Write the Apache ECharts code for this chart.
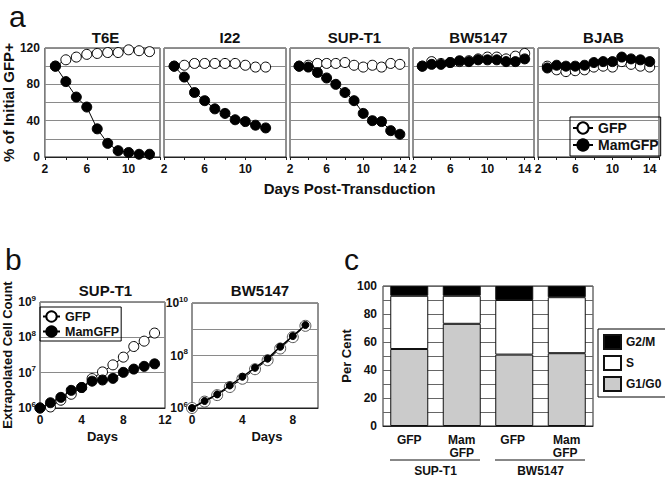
<!DOCTYPE html>
<html>
<head>
<meta charset="utf-8">
<script src="https://cdn.jsdelivr.net/npm/echarts@6/dist/echarts.min.js"></script>
<style>
html,body{margin:0;padding:0;background:#fff;}
#c{width:665px;height:480px;}
</style>
</head>
<body>
<div id="c"></div>
<script>
// ---------- Panel a data ----------
const t6eDays = [3,4,5,6,7,8,9,10,11,12];
const t6eGFP  = [100,107,110,113,114,115,115,118,117,116];
const t6eMam  = [100,83,66,55,31,15,7,5,3,3];
const i22Days = [3,4,5,6,7,8,9,10,11,12];
const i22GFP  = [100,101,103,103,103,103,103,101,99,99];
const i22Mam  = [100,88,71,62,53,48,41,39,35,32];
const supDays = [3,4,5,6,7,8,9,10,11,12,13,14];
const supGFP  = [100,101,103,103,103,104,101,99,101,99,103,102];
const supMam  = [100,99,93,87,80,71,62,48,40,39,29,25];
const bwDays  = [3,4,5,6,7,8,9,10,11,12,13,14];
const bwGFP   = [100,105,103,104,105,106,108,110,110,108,111,114];
const bwMam   = [100,102,102,104,106,105,107,107,107,105,105,108];
const bjabDays= [3,4,5,6,7,8,9,10,11,12,13,14];
const bjabGFP = [100,96,94,95,96,99,100,99,105,102,100,99];
const bjabMam = [98,101,100,100,101,104,105,105,110,108,107,105];
const aTitles = ['T6E','I22','SUP-T1','BW5147','BJAB'];
const aTickLabels = [2,6,10,14];
const aYTickLabels = [0,40,80,120];

// ---------- Panel b data ----------
const b1Days = [0,1,2,3,4,5,6,7,8,9,10,11];
const b1GFP  = [1.0e6,1.07e6,1.66e6,2.45e6,3.8e6,6.8e6,1.05e7,1.66e7,2.75e7,5.5e7,7.8e7,1.32e8];
const b1Mam  = [1.0e6,1.41e6,2.0e6,3.16e6,3.8e6,5.75e6,6.2e6,6.9e6,1.02e7,1.26e7,1.51e7,1.78e7];
const b2Days = [0,1,2,3,4,5,6,7,8,9];
const b2GFP  = [1.0e6,1.75e6,3.1e6,6.3e6,1.3e7,3.0e7,6.6e7,1.85e8,5.0e8,1.35e9];
const b2Mam  = [1.0e6,1.85e6,3.3e6,7.2e6,1.55e7,3.4e7,7.6e7,2.15e8,5.5e8,1.45e9];

// ---------- Panel c data ----------
const cCats   = ['GFP','Mam\nGFP','GFP ','Mam\nGFP '];
const cGroups = ['SUP-T1','BW5147'];
const cG1G0   = [55,73,51,52];
const cS      = [38,20,39,40];
const cG2M    = [7,7,10,8];

const FONT = '"Liberation Sans", Arial, Helvetica, sans-serif';
const chart = echarts.init(document.getElementById('c'), null, {renderer:'svg'});

const aGrids = [
  {left:41, top:48, width:119, height:109},
  {left:164, top:48, width:122, height:109},
  {left:290, top:48, width:119, height:109},
  {left:413, top:48, width:121, height:109},
  {left:538, top:48, width:121, height:109}
];
const aMax = [13,14,15,15,15];
const aData = [
  [t6eDays,t6eGFP,t6eMam],[i22Days,i22GFP,i22Mam],[supDays,supGFP,supMam],
  [bwDays,bwGFP,bwMam],[bjabDays,bjabGFP,bjabMam]
];
const pairs = (d,v)=>d.map((x,i)=>[x,v[i]]);
const gridBase = {show:true, borderColor:'#222', borderWidth:1, backgroundColor:'transparent'};

const grids = [], xAxes = [], yAxes = [], series = [], titles = [];
const lbl = {fontFamily:FONT, fontWeight:'bold', fontSize:12, color:'#111'};
const bigLetter = {fontFamily:FONT, fontSize:30, fontWeight:'normal', color:'#111'};

titles.push({text:'a', left:9, top:1, padding:0, textStyle:bigLetter});
titles.push({text:'b', left:5, top:244, padding:0, textStyle:bigLetter});
titles.push({text:'c', left:344, top:244, padding:0, textStyle:bigLetter});

aGrids.forEach((g,i)=>{
  grids.push(Object.assign({}, gridBase, g));
  titles.push({text:aTitles[i], left:g.left+g.width/2, top:25, textAlign:'center',
    textStyle:{fontFamily:FONT, fontSize:15, fontWeight:'bold', color:'#111'}});
  const hide14 = (i===1);
  xAxes.push({type:'value', gridIndex:i, min:2, max:aMax[i], interval:2,
    axisLine:{show:true, lineStyle:{color:'#222'}},
    axisTick:{show:true, length:3, lineStyle:{color:'#222'}},
    splitLine:{show:false},
    axisLabel:Object.assign({margin:6, showMaxLabel:true, formatter:v=> (aTickLabels.includes(v) && !(hide14 && v===14)) ? String(v) : ''}, lbl),
    name: i===2 ? 'Days Post-Transduction' : '', nameLocation:'middle', nameGap:24,
    nameTextStyle:{fontFamily:FONT, fontWeight:'bold', fontSize:15, color:'#111'}
  });
  yAxes.push({type:'value', gridIndex:i, min:0, max:120, interval:20,
    axisLine:{show:false}, axisTick:{show:false},
    splitLine:{show:true, lineStyle:{color:'#8a8a8a', width:1}},
    axisLabel:Object.assign({show:i===0, margin:5, formatter:v=> aYTickLabels.includes(v) ? String(v) : ''}, lbl),
    name: i===0 ? '% of Initial GFP+' : '', nameLocation:'middle', nameGap:24, nameRotate:90,
    nameTextStyle:{fontFamily:FONT, fontWeight:'bold', fontSize:15, color:'#111'}
  });
  const [d,gfp,mam] = aData[i];
  series.push({type:'line', name:'GFP', xAxisIndex:i, yAxisIndex:i, data:pairs(d,gfp),
    symbol:'circle', symbolSize:10, lineStyle:{color:'#000', width:1},
    itemStyle:{color:'#fff', borderColor:'#000', borderWidth:1}, z:2});
  series.push({type:'line', name:'MamGFP', xAxisIndex:i, yAxisIndex:i, data:pairs(d,mam),
    symbol:'circle', symbolSize:10, lineStyle:{color:'#000', width:1},
    itemStyle:{color:'#000', borderColor:'#000', borderWidth:1}, z:3});
});

// ---------- Panel b ----------
const supFmt = v => { const e = Math.round(Math.log10(v)); return '{b|10}{s|' + e + '}'; };
const rich = {b:{fontFamily:FONT, fontWeight:'bold', fontSize:12, color:'#111'},
              s:{fontFamily:FONT, fontWeight:'bold', fontSize:8, color:'#111', padding:[0,0,8,0]}};
const bGrids = [{left:36, top:302, width:129, height:106},{left:192, top:303, width:126, height:105}];
bGrids.forEach((g,k)=>{
  const gi = 5+k;
  grids.push(Object.assign({}, gridBase, g));
  titles.push({text:k===0?'SUP-T1':'BW5147', left:g.left+g.width/2, top:278, textAlign:'center',
    textStyle:{fontFamily:FONT, fontSize:15, fontWeight:'bold', color:'#111'}});
  xAxes.push({type:'value', gridIndex:gi, min:0, max:k===0?12:10, interval:4,
    axisLine:{show:true, lineStyle:{color:'#222'}}, axisTick:{show:false}, splitLine:{show:false},
    axisLabel:Object.assign({margin:6, formatter:v=> (v%4===0) ? String(v) : ''}, lbl),
    name:'Days', nameLocation:'middle', nameGap:22,
    nameTextStyle:{fontFamily:FONT, fontWeight:'bold', fontSize:13, color:'#111', padding: k===1?[0,0,0,24]:0}
  });
  yAxes.push({type:'log', logBase:10, gridIndex:gi, min:1e6, max:k===0?1e9:1e10,
    axisLine:{show:false}, axisTick:{show:false},
    splitLine:{show:true, lineStyle:{color:'#8a8a8a'}},
    axisLabel:{margin:4, formatter: v => { const e=Math.round(Math.log10(v)); return (k===1 && e%2) ? '' : supFmt(v); }, rich:rich},
    name: k===0 ? 'Extrapolated Cell Count' : '', nameLocation:'middle', nameGap:26, nameRotate:90,
    nameTextStyle:{fontFamily:FONT, fontWeight:'bold', fontSize:13, color:'#111'}
  });
  const d = k===0?b1Days:b2Days, gfp = k===0?b1GFP:b2GFP, mam = k===0?b1Mam:b2Mam;
  series.push({type:'line', name:'GFP', xAxisIndex:gi, yAxisIndex:gi, data:pairs(d,gfp),
    symbol:'circle', symbolSize:k===0?10:11, lineStyle:{color:'#000', width:1},
    itemStyle:{color:'#fff', borderColor:k===0?'#000':'#555', borderWidth:1}, z:2});
  series.push({type:'line', name:'MamGFP', xAxisIndex:gi, yAxisIndex:gi, data:pairs(d,mam),
    symbol:'circle', symbolSize:k===0?10:7, lineStyle:{color:'#000', width:k===0?1:1.5},
    itemStyle:{color:'#000', borderColor:'#000', borderWidth:1}, z:3});
});

// ---------- Panel c ----------
const cGrid = {left:383, top:286, width:210, height:140};
grids.push(Object.assign({}, gridBase, cGrid));
xAxes.push({type:'category', gridIndex:7, data:cCats,
  axisLine:{show:true, lineStyle:{color:'#222'}}, axisTick:{show:false},
  axisLabel:Object.assign({margin:7, lineHeight:13, interval:0}, lbl)});
xAxes.push({type:'category', gridIndex:7, data:cGroups, position:'bottom', offset:33,
  axisLine:{show:false}, axisTick:{show:false},
  axisLabel:Object.assign({margin:6, interval:0}, lbl)});
yAxes.push({type:'value', gridIndex:7, min:0, max:100, interval:10,
  axisLine:{show:false}, axisTick:{show:false},
  splitLine:{show:true, lineStyle:{color:'#666'}},
  axisLabel:Object.assign({margin:6, formatter:v=> v%20===0 ? String(v) : ''}, lbl),
  name:'Per Cent', nameLocation:'middle', nameGap:24, nameRotate:90,
  nameTextStyle:{fontFamily:FONT, fontWeight:'bold', fontSize:13, color:'#111'}});
const barCommon = {type:'bar', xAxisIndex:7, yAxisIndex:7, stack:'c', barWidth:38};
series.push(Object.assign({name:'G1/G0', data:cG1G0, itemStyle:{color:'#cbcbcb', borderColor:'#111', borderWidth:1}}, barCommon));
series.push(Object.assign({name:'S', data:cS, itemStyle:{color:'#ffffff', borderColor:'#111', borderWidth:1}}, barCommon));
series.push(Object.assign({name:'G2/M', data:cG2M, itemStyle:{color:'#000000', borderColor:'#111', borderWidth:1}}, barCommon));

chart.setOption({
  animation:false,
  backgroundColor:'#fff',
  title:titles,
  grid:grids,
  xAxis:xAxes,
  yAxis:yAxes,
  series:series,
  legend:[
    {data:['GFP','MamGFP'], orient:'vertical', left:570, top:117, borderColor:'#000', borderWidth:1,
     padding:[4,2,4,2], itemGap:3, itemWidth:20, itemHeight:14,
     textStyle:{fontFamily:FONT, fontWeight:'bold', fontSize:14, color:'#111'}, selectedMode:false},
    {data:['GFP','MamGFP'], orient:'vertical', left:40, top:307, borderColor:'#000', borderWidth:1,
     padding:[3,2,3,2], itemGap:2, itemWidth:17, itemHeight:13,
     textStyle:{fontFamily:FONT, fontWeight:'bold', fontSize:12.5, color:'#111'}, selectedMode:false},
    {data:['G2/M','S','G1/G0'], orient:'vertical', left:598, top:329, borderColor:'#000', borderWidth:1,
     padding:[5,5,5,5], itemGap:5, itemWidth:17, itemHeight:14, icon:'rect',
     textStyle:{fontFamily:FONT, fontWeight:'bold', fontSize:12, color:'#111'}, selectedMode:false}
  ],
  graphic:[
    {type:'line', shape:{x1:390, y1:460, x2:480, y2:460}, style:{stroke:'#111', lineWidth:1}},
    {type:'line', shape:{x1:495, y1:460, x2:585, y2:460}, style:{stroke:'#111', lineWidth:1}}
  ]
});
</script>
</body>
</html>
